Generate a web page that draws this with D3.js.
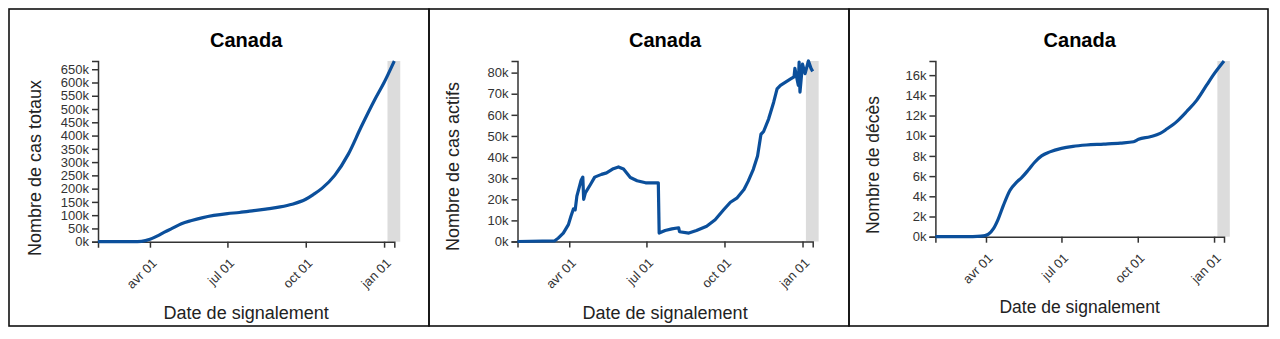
<!DOCTYPE html>
<html>
<head>
<meta charset="utf-8">
<script src="https://cdn.jsdelivr.net/npm/d3@7"></script>
<style>
  body { margin: 0; background: #fff; }
  svg text { font-family: "Liberation Sans", Arial, sans-serif; }
  .axis path, .axis line { stroke: #333; stroke-width: 1.5; }
  .axis text { fill: #333; font-size: 13px; }
</style>
</head>
<body>
<div id="chart"></div>
<script>
const parse = d3.timeParse('%Y-%m-%d');

// cumulative cases
const totalDates = ['2020-01-31', '2020-02-15', '2020-03-01', '2020-03-12', '2020-03-22', '2020-04-01',
  '2020-04-10', '2020-04-18', '2020-04-27', '2020-05-08', '2020-05-20', '2020-06-01', '2020-06-15',
  '2020-07-01', '2020-07-15', '2020-08-01', '2020-08-15', '2020-09-01', '2020-09-15', '2020-10-01',
  '2020-10-10', '2020-10-20', '2020-11-04', '2020-11-20', '2020-12-05', '2020-12-21', '2021-01-01',
  '2021-01-13'];
const totalCases = [0, 10, 30, 120, 1500, 9000, 22000, 36000, 50000, 68000, 80000, 90000, 99000,
  106000, 110000, 117000, 123000, 131000, 141000, 160000, 178000, 201000, 250000, 330000, 432000,
  535000, 600000, 681000];

// active cases
const activeDates = ['2020-01-31', '2020-03-15', '2020-03-19', '2020-03-25', '2020-03-31', '2020-04-03',
  '2020-04-06', '2020-04-08', '2020-04-10', '2020-04-15', '2020-04-17', '2020-04-18', '2020-04-20',
  '2020-04-26', '2020-05-01', '2020-05-09', '2020-05-15', '2020-05-23', '2020-05-29', '2020-06-04',
  '2020-06-12', '2020-06-20', '2020-06-30', '2020-07-15', '2020-07-16', '2020-07-23', '2020-07-31',
  '2020-08-08', '2020-08-09', '2020-08-20', '2020-08-29', '2020-09-10', '2020-09-20', '2020-09-30',
  '2020-10-08', '2020-10-16', '2020-10-24', '2020-10-29', '2020-11-04', '2020-11-09', '2020-11-13',
  '2020-11-16', '2020-11-22', '2020-11-28', '2020-12-02', '2020-12-06', '2020-12-12', '2020-12-18',
  '2020-12-22', '2020-12-23', '2020-12-27', '2020-12-28', '2020-12-29', '2021-01-01', '2021-01-04',
  '2021-01-08', '2021-01-11', '2021-01-13'];
const activeCases = [0, 300, 1600, 4000, 8000, 12000, 15500, 15000, 21500, 29000, 30500, 20000, 23000,
  27000, 30500, 31800, 32500, 34500, 35300, 34300, 30300, 28800, 27800, 27800, 4000, 5200, 6000,
  6500, 4600, 4000, 5200, 7200, 10300, 15000, 18600, 20700, 24600, 28600, 34200, 40500, 50800,
  52000, 58000, 66000, 72300, 74000, 75500, 77000, 78000, 82000, 74000, 85000, 70800, 84000, 79500,
  85500, 82000, 80600];

// cumulative deaths
const deathDates = ['2020-01-31', '2020-02-28', '2020-03-16', '2020-03-26', '2020-03-31', '2020-04-04',
  '2020-04-10', '2020-04-16', '2020-04-22', '2020-04-30', '2020-05-08', '2020-05-14', '2020-05-22',
  '2020-05-30', '2020-06-07', '2020-06-17', '2020-07-01', '2020-07-15', '2020-07-31', '2020-08-21',
  '2020-09-10', '2020-09-26', '2020-10-02', '2020-10-16', '2020-10-28', '2020-11-05', '2020-11-17',
  '2020-11-29', '2020-12-11', '2020-12-23', '2020-12-31', '2021-01-13'];
const deaths = [0, 0, 10, 50, 120, 250, 800, 1800, 3100, 4600, 5400, 5850, 6600, 7400, 8000, 8400,
  8750, 8950, 9080, 9170, 9270, 9400, 9650, 9900, 10230, 10660, 11400, 12400, 13500, 15000, 16000,
  17400];

const xTickDates = ['2020-04-01', '2020-07-01', '2020-10-01', '2021-01-01'];
const xTickLabels = ['avr 01', 'jul 01', 'oct 01', 'jan 01'];
const shadeRange = ['2021-01-05', '2021-01-20'];

const totalTicks = d3.range(0, 650001, 50000);
const activeTicks = d3.range(0, 80001, 10000);
const deathTicks = d3.range(0, 16001, 2000);

const panels = [
  {frame: [9, 429], x: [98, 394.3], y: [241.7, 61], ytitle: 'Nombre de cas totaux', ylabX: 35, ylabY: 168,
    xlabY: 319, dates: totalDates, values: totalCases, ticks: totalTicks, curve: d3.curveMonotoneX, font: 18},
  {frame: [429, 849], x: [517.5, 812.7], y: [241.5, 61], ytitle: 'Nombre de cas actifs', ylabX: 453, ylabY: 166.5,
    xlabY: 319, dates: activeDates, values: activeCases, ticks: activeTicks, curve: d3.curveLinear, font: 18},
  {frame: [849, 1268], x: [935.4, 1224], y: [236.7, 61], ytitle: 'Nombre de décès', ylabX: 873, ylabY: 165,
    xlabY: 313, dates: deathDates, values: deaths, ticks: deathTicks, curve: d3.curveMonotoneX, font: 17.5}
];

const svg = d3.select('#chart')
  .append('svg')
  .attr('width', 1280)
  .attr('height', 339);

panels.forEach(p => {
  const data = p.dates.map((d, i) => ({date: parse(d), value: p.values[i]}));

  svg.append('rect')
    .attr('x', p.frame[0])
    .attr('y', 9)
    .attr('width', p.frame[1] - p.frame[0])
    .attr('height', 317)
    .attr('fill', 'none')
    .attr('stroke', '#111')
    .attr('stroke-width', 1.6);

  const x = d3.scaleTime()
    .domain(d3.extent(data, d => d.date))
    .range(p.x);

  const y = d3.scaleLinear()
    .domain([0, d3.max(data, d => d.value)])
    .range(p.y);

  const g = svg.append('g');

  // recent period, still incomplete
  g.append('rect')
    .attr('x', x(parse(shadeRange[0])))
    .attr('y', p.y[1])
    .attr('width', x(parse(shadeRange[1])) - x(parse(shadeRange[0])))
    .attr('height', p.y[0] - p.y[1])
    .attr('fill', '#dcdcdc');

  g.append('g')
    .attr('class', 'axis')
    .attr('transform', `translate(0,${p.y[0]})`)
    .call(d3.axisBottom(x)
      .tickValues(xTickDates.map(parse))
      .tickFormat((d, i) => xTickLabels[i]))
    .selectAll('text')
      .attr('text-anchor', 'end')
      .attr('x', 0)
      .attr('y', 0)
      .attr('dy', '0.35em')
      .attr('transform', 'translate(4,19) rotate(-45)');

  g.append('g')
    .attr('class', 'axis')
    .attr('transform', `translate(${p.x[0]},0)`)
    .call(d3.axisLeft(y)
      .tickValues(p.ticks)
      .tickFormat(d => d / 1000 + 'k'));

  g.append('path')
    .datum(data)
    .attr('fill', 'none')
    .attr('stroke', '#0b4f9b')
    .attr('stroke-width', 3.2)
    .attr('stroke-linejoin', 'round')
    .attr('d', d3.line()
      .curve(p.curve)
      .x(d => x(d.date))
      .y(d => y(d.value)));

  const cx = (p.x[0] + p.x[1]) / 2;

  g.append('text')
    .attr('x', cx)
    .attr('y', 47)
    .attr('text-anchor', 'middle')
    .style('font-size', '20px')
    .style('font-weight', 'bold')
    .text('Canada');

  g.append('text')
    .attr('x', cx)
    .attr('y', p.xlabY)
    .attr('text-anchor', 'middle')
    .style('font-size', p.font + 'px')
    .style('fill', '#222')
    .text('Date de signalement');

  g.append('text')
    .attr('transform', `translate(${p.ylabX + 6},${p.ylabY}) rotate(-90)`)
    .attr('text-anchor', 'middle')
    .style('font-size', p.font + 'px')
    .style('fill', '#222')
    .text(p.ytitle);
});
</script>
</body>
</html>
